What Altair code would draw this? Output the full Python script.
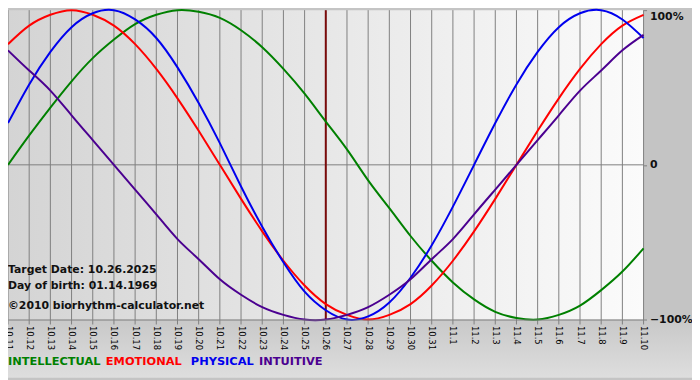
import altair as alt
import pandas as pd

# ---- data ----
dates = ["10.11", "10.12", "10.13", "10.14", "10.15", "10.16", "10.17", "10.18",
         "10.19", "10.20", "10.21", "10.22", "10.23", "10.24", "10.25", "10.26",
         "10.27", "10.28", "10.29", "10.30", "10.31", "11.1", "11.2", "11.3",
         "11.4", "11.5", "11.6", "11.7", "11.8", "11.9", "11.10"]

physical = [0.27, 0.52, 0.73, 0.89, 0.98, 1.00, 0.94, 0.82, 0.63, 0.40, 0.14,
            -0.14, -0.40, -0.63, -0.82, -0.94, -1.00, -0.98, -0.89, -0.73, -0.52,
            -0.27, 0.00, 0.27, 0.52, 0.73, 0.89, 0.98, 1.00, 0.94, 0.82]
emotional = [0.78, 0.90, 0.97, 1.00, 0.97, 0.90, 0.78, 0.62, 0.43, 0.22, 0.00,
             -0.22, -0.43, -0.62, -0.78, -0.90, -0.97, -1.00, -0.97, -0.90, -0.78,
             -0.62, -0.43, -0.22, 0.00, 0.22, 0.43, 0.62, 0.78, 0.90, 0.97]
intellectual = [0.00, 0.19, 0.37, 0.54, 0.69, 0.81, 0.91, 0.97, 1.00, 0.99, 0.95,
                0.87, 0.76, 0.62, 0.46, 0.28, 0.10, -0.10, -0.28, -0.46, -0.62,
                -0.76, -0.87, -0.95, -0.99, -1.00, -0.97, -0.91, -0.81, -0.69, -0.54]
intuitive = [0.74, 0.61, 0.48, 0.32, 0.16, 0.00, -0.16, -0.32, -0.48, -0.61, -0.74,
             -0.84, -0.92, -0.97, -1.00, -1.00, -0.97, -0.92, -0.84, -0.74, -0.61,
             -0.48, -0.32, -0.16, 0.00, 0.16, 0.32, 0.48, 0.61, 0.74, 0.84]

target_date = "10.26"
legend_names = ["INTELLECTUAL", "EMOTIONAL", "PHYSICAL", "INTUITIVE"]
series_colors = ["#008000", "#ff0000", "#0000ee", "#4b0090"]
info_lines = ["Target Date: 10.26.2025", "Day of birth: 01.14.1969",
              "\u00a92010 biorhythm-calculator.net"]
y_ticks = [-1, 0, 1]

W, H = 643, 313
FONT = "DejaVu Sans"

df = pd.DataFrame({
    "date": dates,
    "INTELLECTUAL": intellectual,
    "EMOTIONAL": emotional,
    "PHYSICAL": physical,
    "INTUITIVE": intuitive,
})

xscale = alt.Scale(type="point", domain=dates, padding=0)
yscale = alt.Scale(domain=[-1, 1], nice=False, zero=False)

x_axis = alt.Axis(title=None, grid=False, ticks=False, domain=True, domainColor="#808080",
                  labelAngle=90, labelFont=FONT, labelFontSize=8.5, labelColor="#000000",
                  labelPadding=6, labelOverlap=False, labelBound=False, labelFlush=False,
                  zindex=2)
y_axis = alt.Axis(title=None, orient="right", values=y_ticks, grid=False, domain=False,
                  tickSize=3, tickColor="#808080", labelFont=FONT, labelFontSize=11,
                  labelFontWeight="bold", labelColor="#111111", labelPadding=3,
                  labelFlush=False, zindex=2,
                  labelBaseline=alt.ExprRef(expr="datum.value == 1 ? 'top' : 'middle'"),
                  labelExpr="datum.value == 0 ? '0' : format(datum.value*100, 'd') + '%'")

one = alt.Data(values=[{}])

bg = alt.Chart(one).mark_rect(
    fill=alt.Gradient(gradient="linear", x1=0, y1=0, x2=1, y2=0,
                      stops=[alt.GradientStop(color="#d4d4d4", offset=0),
                             alt.GradientStop(color="#fbfbfb", offset=1)])
).encode(x=alt.value(0), x2=alt.value(W), y=alt.value(0), y2=alt.value(H))

bottom_band = alt.Chart(one).mark_rect(
    fill=alt.Gradient(gradient="linear", x1=0, y1=0, x2=0, y2=1,
                      stops=[alt.GradientStop(color="#c8c8c8", offset=0),
                             alt.GradientStop(color="#dedede", offset=1)])
).encode(x=alt.value(0), x2=alt.value(W + 49), y=alt.value(H), y2=alt.value(H + 59))

grid = alt.Chart(df).mark_rule(color="#808080", strokeWidth=1).encode(
    x=alt.X("date:O", scale=xscale, axis=x_axis),
    y=alt.value(0), y2=alt.value(H + 5))

zero = alt.Chart(one).mark_rule(color="#808080", strokeWidth=1).encode(
    y=alt.Y(datum=0, scale=yscale, axis=y_axis), x=alt.value(0), x2=alt.value(W))

target = alt.Chart(pd.DataFrame({"date": [target_date]})).mark_rule(
    color="#7a0a0a", strokeWidth=2).encode(
    x=alt.X("date:O", scale=xscale), y=alt.value(0), y2=alt.value(H))

lines = []
for name, col in zip(legend_names, series_colors):
    lines.append(alt.Chart(df).mark_line(color=col, strokeWidth=2, interpolate="natural").encode(
        x=alt.X("date:O", scale=xscale),
        y=alt.Y(f"{name}:Q", scale=yscale)))

texts = []
info_y = [263, 279, 299]
for t, yy in zip(info_lines, info_y):
    texts.append(alt.Chart(one).mark_text(
        align="left", baseline="middle", font=FONT, fontSize=11, fontWeight="bold",
        color="#111111").encode(x=alt.value(0), y=alt.value(yy), text=alt.value(t)))

legend_x = [0, 99, 185, 254]
for name, col, xx in zip(legend_names, series_colors, legend_x):
    texts.append(alt.Chart(one).mark_text(
        align="left", baseline="middle", font=FONT, fontSize=11.5, fontWeight="bold",
        color=col).encode(x=alt.value(xx), y=alt.value(H + 43), text=alt.value(name)))

chart = alt.layer(bottom_band, bg, grid, zero, target, *lines, *texts).properties(
    width=W, height=H,
    autosize=alt.AutoSizeParams(type="none"),
    padding={"left": 0, "top": 0, "right": 49, "bottom": 59},
    background="#c4c4c4",
).configure_view(stroke=None)

chart.save("out.html", embed_options={"renderer": "svg", "actions": False})
